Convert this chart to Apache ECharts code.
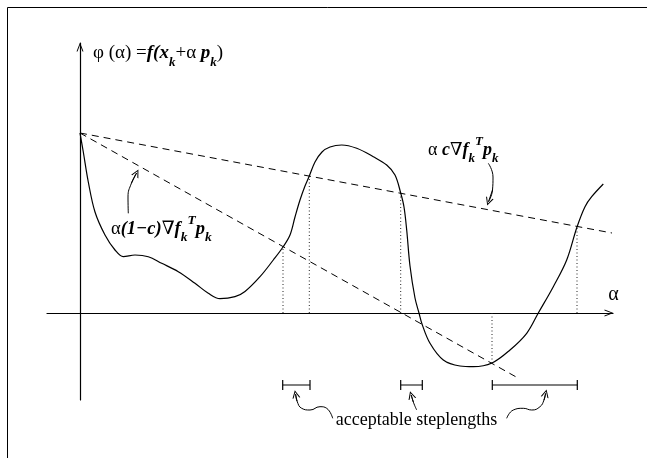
<!DOCTYPE html>
<html>
<head>
<meta charset="utf-8">
<script src="https://cdn.jsdelivr.net/npm/echarts@6/dist/echarts.min.js"></script>
<style>
  html, body { margin: 0; padding: 0; background: #fff; }
  #chart { width: 647px; height: 458px; }
</style>
</head>
<body>
<div id="chart"></div>
<script>
// phi(alpha) as [alpha, phi]
var curvePoints = [
  [0, 18.0], [0.33, 16.1], [0.83, 13.1], [1.5, 10.1], [2.5, 7.8], [3.5, 6.3],
  [4.33, 5.63], [5.5, 5.8], [6.83, 5.63], [8.17, 4.97], [9.83, 4.13], [11.5, 2.97],
  [12.83, 1.97], [14.0, 1.43], [15.5, 1.63], [16.5, 2.15], [18.0, 3.63], [19.33, 5.3],
  [20.3, 6.6], [21.0, 7.8], [21.5, 9.6], [22.0, 11.3], [22.5, 12.7], [22.93, 13.7],
  [23.5, 15.1], [24.2, 16.1], [25.0, 16.6], [26.17, 16.8], [27.67, 16.47], [29.33, 15.63],
  [30.67, 14.8], [31.5, 13.8], [32.07, 12.0], [32.4, 10.6], [32.67, 8.3], [33.0, 4.7],
  [33.5, 1.5], [33.9, 0], [34.2, -1.1], [35.0, -3.03], [36.33, -4.7], [38.0, -5.3],
  [39.33, -5.37], [41.2, -5.0], [43.0, -3.7], [44.67, -2.03], [45.83, 0], [47.33, 2.63],
  [48.67, 5.3], [49.7, 8.6], [50.5, 10.63], [51.17, 11.63], [52.33, 12.9]
];
// the two dashed lines  alpha*c*grad and alpha*(1-c)*grad
var upperLine = [[0, 18.0], [53.2, 8.0]];
var lowerLine = [[0, 18.0], [43.8, -6.5]];
// dotted drops from the crossings down to the alpha axis
var dropLines = [[20.3, 6.6], [22.93, 13.7], [32.07, 12.0], [41.2, -5.0], [49.7, 8.6]];
// acceptable step length intervals
var stepIntervals = [[20.27, 23.0], [32.07, 34.23], [41.23, 49.73]];
var intervalLevel = -7.2;
var intervalTick = 0.5;
// pointer squiggles (last point = arrow head)
var pointerCurves = [
  [[4.83, 9.97], [4.8, 11.6], [5.15, 13.0], [5.66, 14.0]],
  [[40.83, 14.97], [41.3, 13.6], [41.25, 12.3], [40.85, 11.13]],
  [[25.27, -10.53], [24.67, -9.53], [24.0, -9.37], [23.0, -9.7], [22.17, -9.53], [21.7, -8.8], [21.56, -8.11]],
  [[33.67, -9.7], [33.35, -8.95], [33.12, -8.2]],
  [[42.67, -10.53], [43.33, -9.7], [44.33, -9.53], [45.17, -9.7], [46.0, -9.37], [46.4, -8.7], [46.56, -8.04]]
];

var serif = "'Liberation Serif', 'DejaVu Serif', serif";
var chevron = 'path://M0,9 L3.5,0 L7,9 L6,9 L3.5,2.4 L1,9 Z';

// rich text styles for the formulas, main size m, script size s
function mathRich(m, s) {
  var lh = Math.round(m * 1.65);
  return {
    n: { fontFamily: serif, fontSize: m, lineHeight: lh, verticalAlign: 'middle', fill: '#000' },
    i: { fontFamily: serif, fontSize: m, lineHeight: lh, fontStyle: 'italic', fontWeight: 'bold', fill: '#000' },
    s: { fontFamily: serif, fontSize: s, lineHeight: s, verticalAlign: 'bottom', fontStyle: 'italic', fontWeight: 'bold', fill: '#000' },
    t: { fontFamily: serif, fontSize: s, lineHeight: Math.round(m), verticalAlign: 'top', fontStyle: 'italic', fontWeight: 'bold', fill: '#000' }
  };
}

var series = [];

series.push({
  type: 'line', data: curvePoints, smooth: 0.35, showSymbol: false,
  lineStyle: { color: '#000', width: 1.2 }, z: 5
});
[upperLine, lowerLine].forEach(function (d) {
  series.push({
    type: 'line', data: d, showSymbol: false,
    lineStyle: { color: '#000', width: 1, type: [7, 5] }
  });
});
dropLines.forEach(function (p) {
  series.push({
    type: 'line', data: [[p[0], 0], p], showSymbol: false,
    lineStyle: { color: '#222', width: 1, type: [1, 2.5] }
  });
});
stepIntervals.forEach(function (iv) {
  series.push({
    type: 'line', data: [[iv[0], intervalLevel], [iv[1], intervalLevel]], showSymbol: false,
    lineStyle: { color: '#000', width: 1.2 }
  });
  iv.forEach(function (a) {
    series.push({
      type: 'line', data: [[a, intervalLevel + intervalTick], [a, intervalLevel - intervalTick]], showSymbol: false,
      lineStyle: { color: '#000', width: 1.2 }
    });
  });
});
pointerCurves.forEach(function (c) {
  series.push({
    type: 'line', data: c, smooth: 0.5, showSymbol: false, clip: false,
    lineStyle: { color: '#000', width: 1 }
  });
});
series.push({
  type: 'lines', coordinateSystem: 'cartesian2d', clip: false,
  symbol: ['none', chevron], symbolSize: [7, 8],
  lineStyle: { color: '#000', width: 1, opacity: 1 },
  data: pointerCurves.map(function (c) {
    return { coords: [c[c.length - 2], c[c.length - 1]] };
  })
});

var option = {
  animation: false,
  backgroundColor: '#fff',
  grid: { left: 47, right: 34, top: 43, bottom: 58 },
  xAxis: {
    type: 'value', min: -3.3, max: 53.3,
    axisLine: { onZero: true, symbol: ['none', chevron], symbolSize: [7, 9], symbolOffset: [0, -4],
      lineStyle: { color: '#000', width: 1.2 } },
    axisTick: { show: false }, axisLabel: { show: false }, splitLine: { show: false }
  },
  yAxis: {
    type: 'value', min: -8.7, max: 27.0,
    axisLine: { onZero: true, symbol: ['none', chevron], symbolSize: [7, 9], symbolOffset: [0, -4],
      lineStyle: { color: '#000', width: 1.2 } },
    axisTick: { show: false }, axisLabel: { show: false }, splitLine: { show: false }
  },
  graphic: [
    { type: 'polyline', shape: { points: [[7.5, 458], [7.5, 7.5], [647, 7.5]] },
      style: { stroke: '#000', lineWidth: 1, fill: null } },
    { type: 'text', x: 93, y: 38, z: 100,
      style: { text: '{n|φ (α) =}{i|f(x}{s|k}{n|+α }{i|p}{s|k}{n|)}', rich: mathRich(19, 13) } },
    { type: 'text', x: 428, y: 135, z: 100,
      style: { text: '{n|α }{i|c}{n|∇}{i|f}{s|k}{t|T}{i|p}{s|k}', rich: mathRich(18, 13) } },
    { type: 'text', x: 111, y: 214, z: 100,
      style: { text: '{n|α}{i|(1−c)}{n|∇}{i|f}{s|k}{t|T}{i|p}{s|k}', rich: mathRich(18.5, 13.5) } },
    { type: 'text', x: 613.5, y: 295, z: 100,
      style: { text: 'α', font: '20px ' + serif, fill: '#000', textAlign: 'center', textVerticalAlign: 'middle' } },
    { type: 'text', x: 416.5, y: 420.5, z: 100,
      style: { text: 'acceptable steplengths', font: '18px ' + serif, fill: '#000', textAlign: 'center', textVerticalAlign: 'middle' } }
  ],
  series: series
};

var myChart = echarts.init(document.getElementById('chart'));
myChart.setOption(option);
</script>
</body>
</html>
